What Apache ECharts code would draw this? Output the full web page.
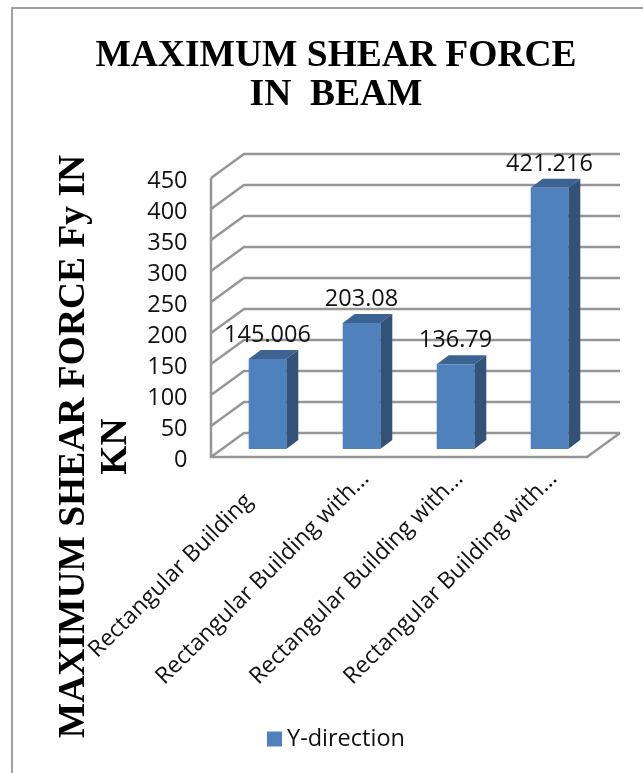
<!DOCTYPE html>
<html><head><meta charset="utf-8">
<style>html,body{margin:0;padding:0;background:#fff}#c{width:643px;height:773px}</style>
<script src="https://cdn.jsdelivr.net/npm/echarts@6/dist/echarts.min.js"></script>
</head><body><div id="c"></div>
<script>
const categories = ['Rectangular Building','Rectangular Building with...','Rectangular Building with...','Rectangular Building with...'];
const values = [145.006, 203.08, 136.79, 421.216];
const yTicks = [0,50,100,150,200,250,300,350,400,450];
const seriesName = 'Y-direction';

const FONT = '"Open Sans", sans-serif';
const GL = 224.5, GW = 376, GT = 178, GH = 279;
const wallDX = 33, wallDY = -24, barDX = 12, barDY = -9, midDY = -8, barShift = -4, wallInset = 13.5;
const lineCol = '#969696';

const chart = echarts.init(document.getElementById('c'), null, {renderer:'canvas'});
chart.setOption({
  animation:false,
  backgroundColor:'#fff',
  title:{text:'MAXIMUM SHEAR FORCE\nIN  BEAM',left:331,top:32,textAlign:'center',
    textStyle:{fontFamily:'"Liberation Serif"',fontWeight:'bold',fontSize:37.5,lineHeight:39,color:'#000'}},
  legend:{data:[seriesName],left:262,top:722,itemWidth:15,itemHeight:15,itemGap:7,icon:'rect',
    textStyle:{fontFamily:FONT,fontSize:23.5,color:'#111'}},
  grid:{left:GL,top:GT,width:GW,height:GH,containLabel:false},
  xAxis:{type:'category',data:categories.map((c,i)=>i===0?{value:c,textStyle:{padding:[0,32,0,0]}}:c),
    axisLine:{show:false},axisTick:{show:false},splitLine:{show:false},
    axisLabel:{rotate:45,margin:18,interval:0,fontFamily:FONT,fontSize:23,color:'#111'}},
  yAxis:{type:'value',min:0,max:450,interval:50,
    axisLine:{show:false},axisTick:{show:false},splitLine:{show:false},
    axisLabel:{margin:37,fontFamily:FONT,fontSize:23.5,color:'#111',verticalAlign:'top',lineHeight:7}},
  graphic:[
    {type:'polyline',silent:true,z:-1,shape:{points:[[12,773],[12,8],[643,8]]},style:{fill:'none',stroke:'#a0a0a0',lineWidth:2}},
    {type:'text',silent:true,x:95,y:446.5,rotation:Math.PI/2,
      style:{text:'MAXIMUM SHEAR FORCE Fy IN\nKN',align:'center',verticalAlign:'middle',
        font:'bold 37.5px "Liberation Serif"',lineHeight:42,fill:'#000'}}
  ],
  series:[
    {type:'custom',name:'walls',silent:true,z:1,data:yTicks,clip:false,
      encode:{y:0},
      renderItem(params,api){
        const v=api.value(0), y=api.coord([0,v])[1];
        const x0=GL-wallInset, x1=x0+GW;
        const children=[{type:'polyline',shape:{points:[[x0,y],[x0+wallDX,y+wallDY],[x1+wallDX,y+wallDY]]},
          style:{fill:'none',stroke:lineCol,lineWidth:2.5}}];
        if(v===0){
          children.push({type:'polyline',shape:{points:[[x0,y-GH],[x0,y],[x1,y],[x1+wallDX,y+wallDY]]},
            style:{fill:'none',stroke:lineCol,lineWidth:2.5}});
        }
        return {type:'group',children};
      }},
    {type:'custom',name:seriesName,z:2,data:values.map((v,i)=>[i,v]),clip:false,
      itemStyle:{color:'#4f81bd'},encode:{x:0,y:1},
      renderItem(params,api){
        const c=api.coord([api.value(0),api.value(1)]), b=api.coord([api.value(0),0]);
        const cx=c[0]+barShift;
        const w=api.size([1,0])[0]*0.4, l=cx-w/2, r=cx+w/2, t=c[1]+midDY, bt=b[1]+midDY;
        return {type:'group',children:[
          {type:'polygon',shape:{points:[[l,t],[r,t],[r+barDX,t+barDY],[l+barDX,t+barDY]]},style:{fill:'#3c6493'}},
          {type:'polygon',shape:{points:[[r,t],[r+barDX,t+barDY],[r+barDX,bt+barDY],[r,bt]]},style:{fill:'#325279'}},
          {type:'rect',shape:{x:l,y:t,width:w,height:bt-t},style:{fill:'#4f81bd'}},
          {type:'text',x:cx,y:t-24,style:{text:String(api.value(1)),align:'center',verticalAlign:'middle',
            font:'23.5px "Open Sans"',fill:'#111'}}
        ]};
      }}
  ]
});
</script></body></html>
